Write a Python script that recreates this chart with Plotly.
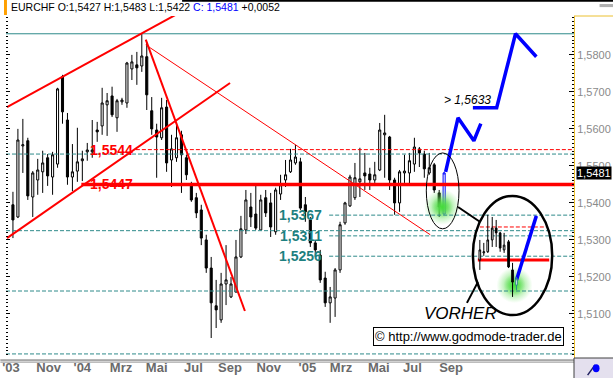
import plotly.graph_objects as go

# ---------------- data ----------------
# weekly candles (index 0 .. 86); the current (blue) candle follows at index 87
opens = [1.5395, 1.5362, 1.5554, 1.5568, 1.5416, 1.5462, 1.5484, 1.5522, 1.5470, 1.5505,
         1.5741, 1.5624, 1.5470, 1.5486, 1.5514, 1.5538, 1.5538, 1.5597, 1.5608, 1.5665,
         1.5689, 1.5630, 1.5673, 1.5670, 1.5762, 1.5773, 1.5770, 1.5795, 1.5649, 1.5597,
         1.5576, 1.5659, 1.5516, 1.5522, 1.5584, 1.5522, 1.5449, 1.5414, 1.5381, 1.5300,
         1.5224, 1.5122, 1.5084, 1.5181, 1.5146, 1.5159, 1.5254, 1.5327, 1.5389, 1.5370,
         1.5327, 1.5414, 1.5400, 1.5322, 1.5424, 1.5462, 1.5484, 1.5508, 1.5511, 1.5395,
         1.5354, 1.5292, 1.5259, 1.5197, 1.5130, 1.5143, 1.5219, 1.5346, 1.5392, 1.5414,
         1.5457, 1.5481, 1.5478, 1.5462, 1.5489, 1.5584, 1.5578, 1.5462, 1.5400, 1.5481,
         1.5481, 1.5505, 1.5546, 1.5532, 1.5481, 1.5503, 1.5427]
highs = [1.5430, 1.5600, 1.5627, 1.5576, 1.5486, 1.5519, 1.5541, 1.5532, 1.5538, 1.5711,
         1.5746, 1.5643, 1.5559, 1.5603, 1.5541, 1.5562, 1.5624, 1.5619, 1.5711, 1.5697,
         1.5714, 1.5681, 1.5684, 1.5781, 1.5800, 1.5808, 1.5857, 1.5835, 1.5686, 1.5614,
         1.5684, 1.5678, 1.5584, 1.5611, 1.5595, 1.5530, 1.5457, 1.5427, 1.5395, 1.5314,
         1.5254, 1.5192, 1.5211, 1.5286, 1.5200, 1.5300, 1.5365, 1.5435, 1.5427, 1.5449,
         1.5422, 1.5435, 1.5427, 1.5441, 1.5476, 1.5516, 1.5546, 1.5557, 1.5522, 1.5416,
         1.5362, 1.5300, 1.5273, 1.5214, 1.5173, 1.5224, 1.5349, 1.5403, 1.5476, 1.5508,
         1.5549, 1.5535, 1.5495, 1.5511, 1.5616, 1.5638, 1.5581, 1.5468, 1.5489, 1.5530,
         1.5535, 1.5576, 1.5551, 1.5541, 1.5535, 1.5508, 1.5435]
lows = [1.5305, 1.5359, 1.5481, 1.5408, 1.5362, 1.5422, 1.5427, 1.5446, 1.5422, 1.5495,
        1.5614, 1.5449, 1.5432, 1.5457, 1.5459, 1.5514, 1.5522, 1.5565, 1.5584, 1.5581,
        1.5632, 1.5592, 1.5665, 1.5657, 1.5732, 1.5719, 1.5754, 1.5651, 1.5584, 1.5468,
        1.5570, 1.5484, 1.5443, 1.5511, 1.5427, 1.5462, 1.5403, 1.5359, 1.5286, 1.5211,
        1.5035, 1.5062, 1.5076, 1.5124, 1.5143, 1.5159, 1.5251, 1.5316, 1.5335, 1.5327,
        1.5327, 1.5362, 1.5308, 1.5314, 1.5408, 1.5443, 1.5481, 1.5503, 1.5381, 1.5349,
        1.5281, 1.5254, 1.5184, 1.5119, 1.5076, 1.5092, 1.5211, 1.5341, 1.5389, 1.5408,
        1.5416, 1.5435, 1.5435, 1.5454, 1.5486, 1.5468, 1.5435, 1.5368, 1.5376, 1.5454,
        1.5449, 1.5484, 1.5497, 1.5468, 1.5476, 1.5427, 1.5362]
closes = [1.5354, 1.5570, 1.5557, 1.5419, 1.5481, 1.5489, 1.5508, 1.5473, 1.5530, 1.5708,
          1.5646, 1.5470, 1.5484, 1.5511, 1.5519, 1.5543, 1.5543, 1.5592, 1.5670, 1.5676,
          1.5638, 1.5676, 1.5678, 1.5778, 1.5781, 1.5765, 1.5797, 1.5692, 1.5600, 1.5578,
          1.5657, 1.5508, 1.5546, 1.5576, 1.5530, 1.5476, 1.5408, 1.5373, 1.5305, 1.5224,
          1.5130, 1.5111, 1.5181, 1.5192, 1.5181, 1.5254, 1.5330, 1.5408, 1.5362, 1.5332,
          1.5408, 1.5373, 1.5335, 1.5435, 1.5449, 1.5476, 1.5516, 1.5524, 1.5386, 1.5376,
          1.5292, 1.5273, 1.5192, 1.5130, 1.5146, 1.5219, 1.5341, 1.5400, 1.5470, 1.5468,
          1.5465, 1.5473, 1.5462, 1.5476, 1.5597, 1.5589, 1.5462, 1.5400, 1.5484, 1.5486,
          1.5514, 1.5551, 1.5535, 1.5492, 1.5495, 1.5435, 1.5389]
current = dict(x=87, o=1.5370, h=1.5484, l=1.5370, c=1.5481)

# inset ("VORHER") miniature candles
inset_x = [94.2, 95.0, 95.8, 96.7, 97.5, 98.3, 99.1, 100.0, 100.8]
inset_o = [1.5246, 1.5265, 1.5268, 1.5300, 1.5332, 1.5319, 1.5273, 1.5295, 1.5219]
inset_h = [1.5300, 1.5292, 1.5368, 1.5362, 1.5354, 1.5322, 1.5319, 1.5300, 1.5238]
inset_l = [1.5219, 1.5257, 1.5265, 1.5281, 1.5281, 1.5268, 1.5265, 1.5224, 1.5146]
inset_c = [1.5273, 1.5268, 1.5300, 1.5332, 1.5319, 1.5278, 1.5286, 1.5227, 1.5186]
inset_cur = dict(x=101.6, o=1.5178, h=1.5200, l=1.5165, c=1.5195)

# trend lines (x = week index, y = price)
upper_channel_x, upper_channel_y = [-1.2, 32.8], [1.5659, 1.5908]
lower_channel_x, lower_channel_y = [-1.2, 43.8], [1.5305, 1.5724]
steep_down_x, steep_down_y = [26.8, 46.8], [1.5841, 1.5108]
thin_down_x, thin_down_y = [26.8, 84.2], [1.5827, 1.5314]

# projections
proj1_x, proj1_y = [87.3, 89.8, 93.0, 94.4], [1.5484, 1.5630, 1.5568, 1.5614]
proj2_x, proj2_y = [92.8, 97.6, 101.4, 105.6], [1.5657, 1.5657, 1.5857, 1.5795]
inset_proj_x, inset_proj_y = [101.6, 105.6], [1.5192, 1.5365]

# glow markers
glow_x, glow_y = [86.6, 101.2], [1.5389, 1.5178]

# horizontal levels
resistance = 1.5544
support = 1.5447
support_draw = 1.5450
teal_full = [1.5532, 1.5325, 1.5162, 1.4992]
teal_marked = [1.5367, 1.5311, 1.5256]
teal_top = 1.5857
inset_red_solid = 1.5246
inset_red_dash = 1.5335
target_label_y = 1.5678

# axis
ytick_vals = [1.51, 1.52, 1.53, 1.54, 1.55, 1.56, 1.57, 1.58]
ytick_text = ["1,5100", "1,5200", "1,5300", "1,5400", "1,5500", "1,5600", "1,5700", "1,5800"]
xtick_vals = [-0.4, 7.2, 14.0, 21.8, 29.0, 36.4, 43.8, 51.6, 59.4, 66.2, 73.8, 80.6, 88.4]
xtick_text = ["'03", "Nov", "'04", "Mrz", "Mai", "Jul", "Sep", "Nov", "'05", "Mrz", "Mai", "Jul", "Sep"]

XMIN, XMAX = -1.4, 113.2
YMIN, YMAX = 1.4981, 1.5905

RED = "#FF0000"
TEAL = "#2E8A8A"
BLUE = "#0000FF"
FONT = "Liberation Sans, Arial, sans-serif"

fig = go.Figure()

# green glows (radial gradient: gradient.color is the centre colour)
fig.add_trace(go.Scatter(
    x=glow_x, y=glow_y, mode="markers", hoverinfo="skip",
    marker=dict(size=36, color="rgba(120,230,110,0)",
                gradient=dict(type="radial", color="rgba(60,215,50,1)"),
                line=dict(width=0))))
fig.add_trace(go.Scatter(
    x=glow_x, y=glow_y, mode="markers", hoverinfo="skip",
    marker=dict(size=22, color="rgba(110,225,100,0)",
                gradient=dict(type="radial", color="rgba(70,220,60,0.9)"),
                line=dict(width=0))))

# horizontal levels
for lv in teal_full:
    fig.add_trace(go.Scatter(x=[XMIN, XMAX], y=[lv, lv], mode="lines", hoverinfo="skip",
                             line=dict(color=TEAL, width=1, dash="4px,2px")))
for lv in teal_marked:
    fig.add_trace(go.Scatter(x=[63.8, XMAX], y=[lv, lv], mode="lines", hoverinfo="skip",
                             line=dict(color=TEAL, width=1, dash="4px,2px")))
fig.add_trace(go.Scatter(x=[XMIN, XMAX], y=[teal_top, teal_top], mode="lines", hoverinfo="skip",
                         line=dict(color=TEAL, width=1)))

# candles
fig.add_trace(go.Candlestick(
    x=list(range(len(opens))), open=opens, high=highs, low=lows, close=closes,
    whiskerwidth=0, hoverinfo="skip",
    increasing=dict(fillcolor="white", line=dict(color="black", width=1)),
    decreasing=dict(fillcolor="black", line=dict(color="black", width=1))))
fig.add_trace(go.Candlestick(
    x=[current["x"]], open=[current["o"]], high=[current["h"]], low=[current["l"]], close=[current["c"]],
    whiskerwidth=0, hoverinfo="skip",
    increasing=dict(fillcolor="white", line=dict(color=BLUE, width=1)),
    decreasing=dict(fillcolor="white", line=dict(color=BLUE, width=1))))

# red levels
fig.add_trace(go.Scatter(x=[24.8, XMAX], y=[resistance, resistance], mode="lines", hoverinfo="skip",
                         line=dict(color=RED, width=1, dash="4px,2px")))
fig.add_trace(go.Scatter(x=[13.8, XMAX], y=[support_draw, support_draw], mode="lines", hoverinfo="skip",
                         line=dict(color=RED, width=3.5)))
fig.add_trace(go.Scatter(x=[93.8, 108.2], y=[inset_red_solid, inset_red_solid], mode="lines",
                         hoverinfo="skip", line=dict(color=RED, width=3)))
fig.add_trace(go.Scatter(x=[94.2, 107.6], y=[inset_red_dash, inset_red_dash], mode="lines",
                         hoverinfo="skip", line=dict(color=RED, width=1, dash="4px,2px")))

# trend lines
for xs, ys, w in [(upper_channel_x, upper_channel_y, 2), (lower_channel_x, lower_channel_y, 2),
                  (steep_down_x, steep_down_y, 2), (thin_down_x, thin_down_y, 1)]:
    fig.add_trace(go.Scatter(x=xs, y=ys, mode="lines", hoverinfo="skip",
                             line=dict(color=RED, width=w)))

# projections
for xs, ys in [(proj1_x, proj1_y), (proj2_x, proj2_y), (inset_proj_x, inset_proj_y)]:
    fig.add_trace(go.Scatter(x=xs, y=ys, mode="lines", hoverinfo="skip",
                             line=dict(color=BLUE, width=3.5)))

# left tick axis helper
fig.add_trace(go.Scatter(x=[XMIN - 10], y=[YMIN - 1], yaxis="y2", mode="markers",
                         hoverinfo="skip", marker=dict(size=1, color="white")))

# inset candles on their own overlaid axes (so their spacing is independent)
fig.add_trace(go.Candlestick(
    x=inset_x, open=inset_o, high=inset_h, low=inset_l, close=inset_c,
    xaxis="x2", yaxis="y3", whiskerwidth=0, hoverinfo="skip",
    increasing=dict(fillcolor="white", line=dict(color="black", width=1)),
    decreasing=dict(fillcolor="black", line=dict(color="black", width=1))))
fig.add_trace(go.Candlestick(
    x=[inset_cur["x"]], open=[inset_cur["o"]], high=[inset_cur["h"]], low=[inset_cur["l"]],
    close=[inset_cur["c"]], xaxis="x2", yaxis="y3", whiskerwidth=0, hoverinfo="skip",
    increasing=dict(fillcolor="white", line=dict(color="#2E8A8A", width=1)),
    decreasing=dict(fillcolor="white", line=dict(color="#2E8A8A", width=1))))

# ellipses / connectors / frame decorations
shapes = [
    dict(type="circle", xref="x", yref="y", x0=83.4, x1=90.0, y0=1.5330, y1=1.5535,
         line=dict(color="black", width=1)),
    dict(type="circle", xref="x", yref="y", x0=92.8, x1=108.8, y0=1.5097, y1=1.5419,
         line=dict(color="black", width=2.5)),
    dict(type="line", xref="x", yref="y", x0=89.8, x1=94.2, y0=1.5389, y1=1.5349,
         line=dict(color="black", width=2)),
    dict(type="line", xref="x", yref="y", x0=93.8, x1=91.6, y0=1.5186, y1=1.5130,
         line=dict(color="black", width=2)),
    # title orange marker
    dict(type="rect", xref="paper", yref="paper", x0=-0.0035, x1=0.0017, y0=1.003, y1=1.047,
         fillcolor="#FFA000", line=dict(width=0)),
    # black top strip
    dict(type="rect", xref="paper", yref="paper", x0=0.31, x1=1.07, y0=1.042, y1=1.047,
         fillcolor="black", line=dict(width=0)),
    dict(type="rect", xref="paper", yref="paper", x0=1.045, x1=1.07, y0=1.026, y1=1.035,
         fillcolor="#B0B0B0", line=dict(width=0)),
    # yellow border on top of right panel
    dict(type="line", xref="paper", yref="paper", x0=1.0, x1=1.07, y0=1.0, y1=1.0,
         line=dict(color="#EBC030", width=1)),
    # bottom double line
    dict(type="line", xref="paper", yref="paper", x0=-0.01, x1=1.0, y0=-0.006, y1=-0.006,
         line=dict(color="#606060", width=1)),
    dict(type="line", xref="paper", yref="paper", x0=-0.01, x1=1.0, y0=-0.012, y1=-0.012,
         line=dict(color="#909090", width=1)),
    # lavender corner box
    dict(type="rect", xref="paper", yref="paper", x0=1.0, x1=1.07, y0=-0.062, y1=0.0,
         fillcolor="#E4E0EE", line=dict(color="#404040", width=1)),
    dict(type="line", xref="paper", yref="paper", x0=1.024, x1=1.037, y0=-0.05, y1=-0.02,
         line=dict(color="#202060", width=1.5)),
    dict(type="circle", xref="paper", yref="paper", x0=1.033, x1=1.045, y0=-0.042, y1=-0.018,
         fillcolor=BLUE, line=dict(color=BLUE, width=0)),
]

annotations = [
    dict(x=24.6, y=resistance, xref="x", yref="y", text="1,5544", showarrow=False,
         xanchor="right", yanchor="middle", font=dict(family=FONT, size=14, color=RED, weight="bold")),
    dict(x=24.6, y=support_draw, xref="x", yref="y", text="1,5447", showarrow=False,
         xanchor="right", yanchor="middle", font=dict(family=FONT, size=14, color=RED, weight="bold")),
]
for lv, t in zip(teal_marked, ["1,5367", "1,5311", "1,5256"]):
    annotations.append(dict(x=62.8, y=lv, xref="x", yref="y", text=t, showarrow=False,
                            xanchor="right", yanchor="middle",
                            font=dict(family=FONT, size=14, color="#1E8080", weight="bold")))
annotations += [
    dict(x=86.6, y=target_label_y, xref="x", yref="y", text="> 1,5633", showarrow=False,
         xanchor="left", yanchor="middle",
         font=dict(family=FONT, size=12, color="black", style="italic")),
    dict(x=82.6, y=1.5100, xref="x", yref="y", text="VORHER", showarrow=False,
         xanchor="left", yanchor="middle",
         font=dict(family=FONT, size=17, color="black", style="italic")),
    dict(x=0.9825, y=0.062, xref="paper", yref="paper",
         text="© http://www.godmode-trader.de", showarrow=False, xanchor="right",
         yanchor="middle", bgcolor="white", bordercolor="black", borderwidth=1, borderpad=1,
         font=dict(family=FONT, size=13, color="black")),
    dict(x=1.003, y=current["c"], xref="paper", yref="y", text="1,5481", showarrow=False,
         xanchor="left", yanchor="middle", bgcolor="black", borderpad=0,
         font=dict(family=FONT, size=11, color="white")),
    dict(x=0.006, y=1.025, xref="paper", yref="paper",
         text="EURCHF O:1,5427 H:1,5483 L:1,5422 <span style='color:#0000FF'>C: 1,5481</span> +0,0052",
         showarrow=False, xanchor="left", yanchor="middle",
         font=dict(family=FONT, size=10.5, color="black")),
]

fig.update_layout(
    width=613, height=378,
    margin=dict(l=2, r=38, t=16, b=20),
    paper_bgcolor="white", plot_bgcolor="white",
    showlegend=False, boxgap=0.4,
    shapes=shapes, annotations=annotations,
    xaxis=dict(range=[XMIN, XMAX], rangeslider=dict(visible=False), showgrid=False,
               zeroline=False, tickvals=xtick_vals, ticktext=xtick_text, ticks="",
               showline=False, ticklabeloverflow="allow",
               tickfont=dict(family="Liberation Sans Narrow, Arial Narrow, " + FONT, size=13,
                             color="#6a6a6a", weight="bold")),
    xaxis2=dict(range=[XMIN, XMAX], overlaying="x", visible=False,
                rangeslider=dict(visible=False)),
    yaxis=dict(range=[YMIN, YMAX], side="right", showgrid=False, zeroline=False,
               tickvals=ytick_vals, ticktext=ytick_text, ticks="inside", ticklen=5,
               tickcolor="black", showline=True, linecolor="#EBC030", linewidth=1,
               minor=dict(dtick=0.001, tick0=1.5, ticks="inside", ticklen=2, tickcolor="black"),
               tickfont=dict(family=FONT, size=11, color="#8a8a8a")),
    yaxis2=dict(range=[YMIN, YMAX], overlaying="y", side="left", showgrid=False, zeroline=False,
                tickvals=ytick_vals, showticklabels=False, ticks="inside", ticklen=4,
                tickcolor="black", showline=False,
                minor=dict(dtick=0.001, tick0=1.5, ticks="inside", ticklen=2, tickcolor="black")),
    yaxis3=dict(range=[YMIN, YMAX], overlaying="y", visible=False),
)

fig.write_html("out.html")
